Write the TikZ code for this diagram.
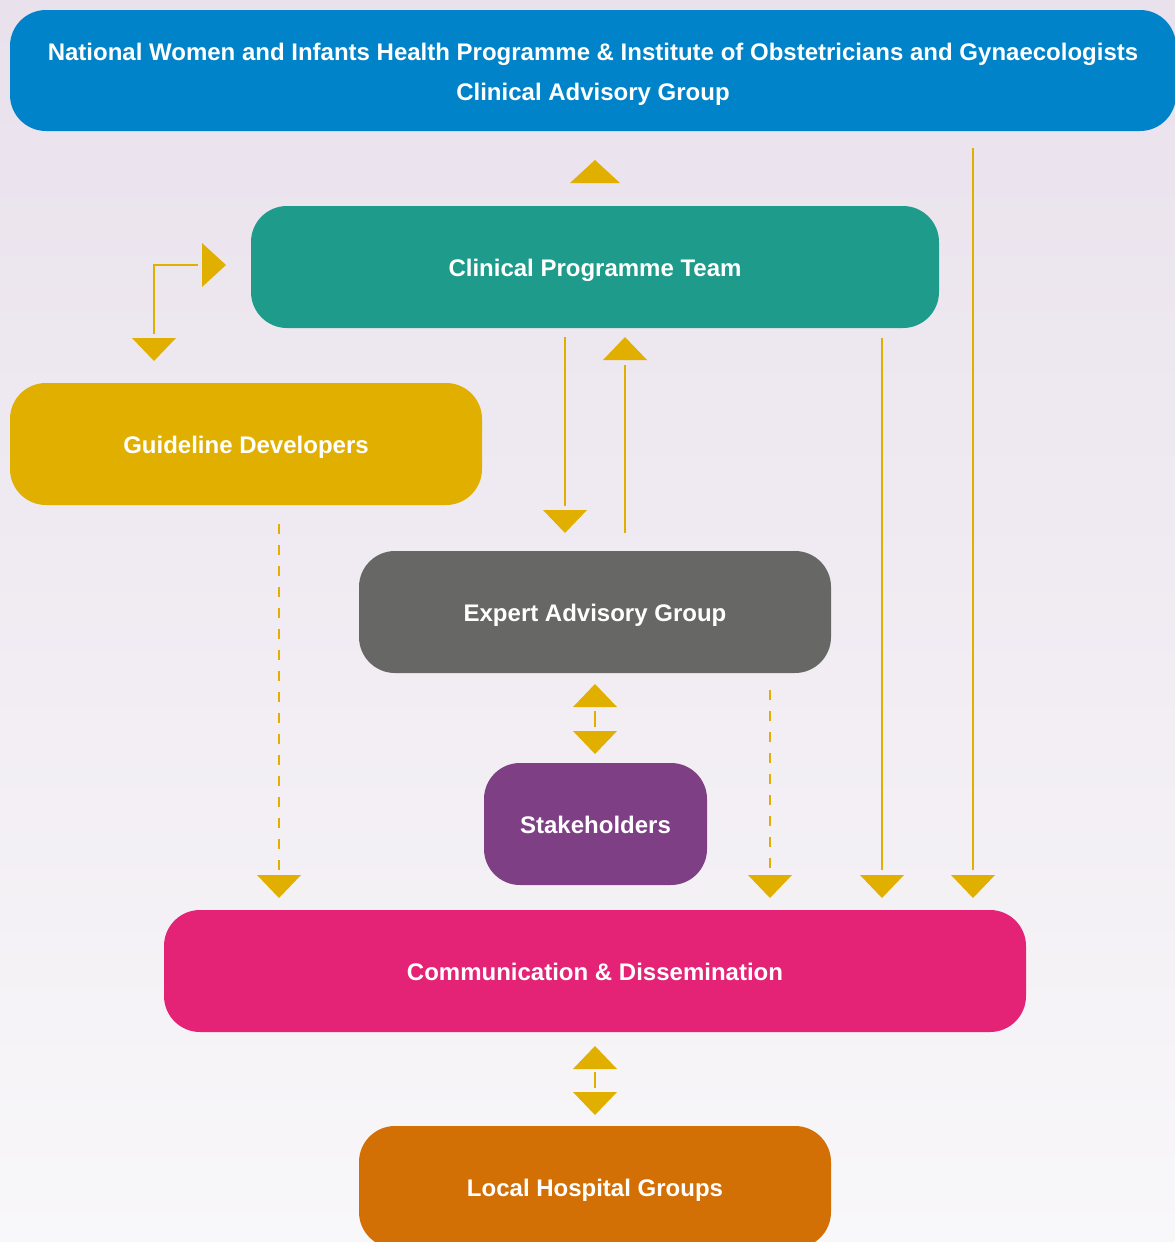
\documentclass[tikz,border=0pt]{standalone}
\usepackage{fontspec}
\setmainfont{Liberation Sans}
\usetikzlibrary{calc}
\definecolor{bgtop}{RGB}{233,225,236}
\definecolor{bgbot}{RGB}{248,247,249}
\definecolor{cblue}{RGB}{0,131,201}
\definecolor{cteal}{RGB}{30,155,139}
\definecolor{cgold}{RGB}{224,175,0}
\definecolor{cgray}{RGB}{103,104,101}
\definecolor{cpurple}{RGB}{126,63,132}
\definecolor{cpink}{RGB}{228,35,118}
\definecolor{corange}{RGB}{211,112,5}
\newcommand{\tdown}[2]{\fill[cgold] ({#1-22},{#2-23}) -- ({#1+22},{#2-23}) -- (#1,#2) -- cycle;}
\newcommand{\tup}[2]{\fill[cgold] ({#1-22},{#2+23}) -- ({#1+22},{#2+23}) -- (#1,#2) -- cycle;}
\newcommand{\tright}[2]{\fill[cgold] ({#1-24},{#2-22}) -- ({#1-24},{#2+22}) -- (#1,#2) -- cycle;}
\newcommand{\bxt}[1]{\raisebox{-9.6pt}[0pt][0pt]{#1}}
\begin{document}
\begin{tikzpicture}[x=1pt,y=-1pt,
  box/.style={rounded corners=36pt, minimum height=122pt, inner sep=0pt,
    text=white, font=\bfseries\fontsize{24}{40}\selectfont, align=center},
  conn/.style={draw=cgold, line width=2.8pt},
  dashconn/.style={conn, dash pattern=on 10pt off 11pt}]
\clip (0,0) rectangle (1175,1242);
\useasboundingbox (0,0) rectangle (1175,1242);
\shade[top color=bgtop, bottom color=bgbot] (0,0) rectangle (1175,1242);

\node[box, fill=cblue, minimum width=1166pt, minimum height=121pt] (nwihp) at (593,70.5)
  {\bxt{National Women and Infants Health Programme \& Institute of Obstetricians and Gynaecologists}\\\bxt{Clinical Advisory Group}};
\node[box, fill=cteal, minimum width=688pt] (cpt) at (595,267) {\bxt{Clinical Programme Team}};
\node[box, fill=cgold, minimum width=472pt] (gd) at (246,444) {\bxt{Guideline Developers}};
\node[box, fill=cgray, minimum width=472pt] (eag) at (595,612) {\bxt{Expert Advisory Group}};
\node[box, fill=cpurple, minimum width=223pt] (sh) at (595.5,824) {\bxt{Stakeholders}};
\node[box, fill=cpink, minimum width=862pt] (cd) at (595,971) {\bxt{Communication \& Dissemination}};
\node[box, fill=corange, minimum width=472pt] (lhg) at (595,1187) {\bxt{Local Hospital Groups}};

% connectors
\coordinate (l1a) at (154,334); \coordinate (l1b) at (154,265); \coordinate (l1c) at (198,265);
\draw[conn] (l1a) -- (l1b) -- (l1c);
\coordinate (l2a) at (565,337); \coordinate (l2b) at (565,506);
\draw[conn] (l2a) -- (l2b);
\coordinate (l3a) at (625,533); \coordinate (l3b) at (625,365);
\draw[conn] (l3a) -- (l3b);
\coordinate (l4a) at (595,711); \coordinate (l4b) at (595,727);
\draw[conn] (l4a) -- (l4b);
\coordinate (l5a) at (279,524); \coordinate (l5b) at (279,870);
\draw[dashconn] (l5a) -- (l5b);
\coordinate (l6a) at (770,690); \coordinate (l6b) at (770,870);
\draw[dashconn] (l6a) -- (l6b);
\coordinate (l7a) at (882,338); \coordinate (l7b) at (882,870);
\draw[conn] (l7a) -- (l7b);
\coordinate (l8a) at (973,148); \coordinate (l8b) at (973,870);
\draw[conn] (l8a) -- (l8b);
\coordinate (l9a) at (595,1072); \coordinate (l9b) at (595,1088);
\draw[conn] (l9a) -- (l9b);

% arrow heads
\fill[cgold] (570,183) -- (620,183) -- (595,160) -- cycle;
\tright{226}{265}
\tdown{154}{361}
\tdown{565}{533}
\tup{625}{337}
\tup{595}{684}
\tdown{595}{754}
\tdown{279}{898}
\tdown{770}{898}
\tdown{882}{898}
\tdown{973}{898}
\tup{595}{1046}
\tdown{595}{1115}
\end{tikzpicture}
\end{document}
